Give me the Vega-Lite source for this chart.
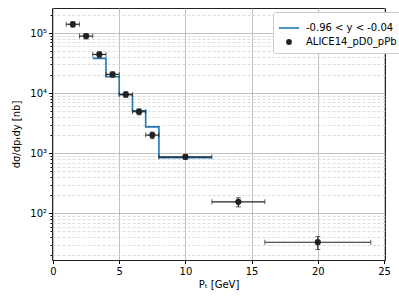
{
  "$schema": "https://vega.github.io/schema/vega-lite/v6.json",
  "width": 333,
  "height": 252,
  "autosize": {"type": "none"},
  "padding": {"left": 52, "top": 8, "right": 14, "bottom": 39},
  "background": "white",
  "config": {
    "font": "DejaVu Sans",
    "view": {"stroke": "#222", "strokeWidth": 1},
    "axis": {"labelFontSize": 10, "titleFontSize": 10, "labelColor": "#000", "titleColor": "#000", "tickColor": "#000", "domain": false, "titleFontWeight": "normal"},
    "legend": {"labelFontSize": 10, "labelColor": "#000"}
  },
  "datasets": {
    "model": [
      {"pt": 3, "y": 37900, "series": "-0.96 < y < -0.04"},
      {"pt": 4, "y": 18700, "series": "-0.96 < y < -0.04"},
      {"pt": 5, "y": 9400, "series": "-0.96 < y < -0.04"},
      {"pt": 6, "y": 5070, "series": "-0.96 < y < -0.04"},
      {"pt": 7, "y": 2740, "series": "-0.96 < y < -0.04"},
      {"pt": 8, "y": 845, "series": "-0.96 < y < -0.04"},
      {"pt": 12, "y": 845, "series": "-0.96 < y < -0.04"}
    ],
    "alice": [
      {"pt": 1.5, "xlo": 1, "xhi": 2, "y": 140000, "ylo": 126000, "yhi": 154000, "series": "ALICE14_pD0_pPb"},
      {"pt": 2.5, "xlo": 2, "xhi": 3, "y": 89000, "ylo": 80000, "yhi": 98000, "series": "ALICE14_pD0_pPb"},
      {"pt": 3.5, "xlo": 3, "xhi": 4, "y": 44000, "ylo": 39500, "yhi": 48500, "series": "ALICE14_pD0_pPb"},
      {"pt": 4.5, "xlo": 4, "xhi": 5, "y": 20500, "ylo": 18500, "yhi": 22500, "series": "ALICE14_pD0_pPb"},
      {"pt": 5.5, "xlo": 5, "xhi": 6, "y": 9500, "ylo": 8500, "yhi": 10500, "series": "ALICE14_pD0_pPb"},
      {"pt": 6.5, "xlo": 6, "xhi": 7, "y": 4900, "ylo": 4350, "yhi": 5450, "series": "ALICE14_pD0_pPb"},
      {"pt": 7.5, "xlo": 7, "xhi": 8, "y": 2000, "ylo": 1750, "yhi": 2250, "series": "ALICE14_pD0_pPb"},
      {"pt": 10, "xlo": 8, "xhi": 12, "y": 870, "ylo": 790, "yhi": 950, "series": "ALICE14_pD0_pPb"},
      {"pt": 14, "xlo": 12, "xhi": 16, "y": 155, "ylo": 128, "yhi": 182, "series": "ALICE14_pD0_pPb"},
      {"pt": 20, "xlo": 16, "xhi": 24, "y": 33, "ylo": 25, "yhi": 41, "series": "ALICE14_pD0_pPb"}
    ]
  },
  "layer": [
    {
      "data": {"name": "model"},
      "mark": {"type": "line", "interpolate": "step-after", "strokeWidth": 1.6},
      "encoding": {
        "x": {"field": "pt", "type": "quantitative", "title": "Pₜ [GeV]",
          "scale": {"domain": [-0.075, 25.075], "nice": false, "zero": false},
          "axis": {"values": [0, 5, 10, 15, 20, 25], "grid": true, "gridColor": "#b0b0b0", "gridWidth": 0.8, "tickSize": 3.5, "labelPadding": 3, "titlePadding": 3, "labelFlush": false}},
        "y": {"field": "y", "type": "quantitative", "title": "dσ/dpₜdy [nb]",
          "scale": {"type": "log", "domain": [16.7, 261000], "nice": false},
          "axis": {
            "values": [20, 30, 40, 50, 60, 70, 80, 90, 100, 200, 300, 400, 500, 600, 700, 800, 900, 1000, 2000, 3000, 4000, 5000, 6000, 7000, 8000, 9000, 10000, 20000, 30000, 40000, 50000, 60000, 70000, 80000, 90000, 100000, 200000],
            "labelExpr": "datum.value == 100 ? '10²' : datum.value == 1000 ? '10³' : datum.value == 10000 ? '10⁴' : datum.value == 100000 ? '10⁵' : ''",
            "titlePadding": 8,
            "grid": true,
            "gridColor": {"condition": {"test": "indexof([100,1000,10000,100000], datum.value) >= 0", "value": "#b0b0b0"}, "value": "#d3d3d3"},
            "gridDash": {"condition": {"test": "indexof([100,1000,10000,100000], datum.value) >= 0", "value": []}, "value": [3, 2]},
            "gridWidth": 0.8,
            "tickSize": {"condition": {"test": "indexof([100,1000,10000,100000], datum.value) >= 0", "value": 3.5}, "value": 2},
            "labelPadding": 2,
            "labelOverlap": false
          }},
        "stroke": {"field": "series", "type": "nominal",
          "scale": {"domain": ["-0.96 < y < -0.04", "ALICE14_pD0_pPb"], "range": ["#1f77b4", "#222222"]},
          "legend": {"title": null, "orient": "none", "legendX": 221, "legendY": 4, "fillColor": "white", "strokeColor": "#cccccc", "padding": 5, "cornerRadius": 2, "rowPadding": 3, "labelOffset": 6, "symbolStrokeWidth": 1.6}}
      }
    },
    {
      "data": {"name": "alice"},
      "mark": {"type": "errorbar", "ticks": {"size": 5}, "color": "#222222", "rule": {"strokeWidth": 1.2}},
      "encoding": {
        "x": {"field": "xlo", "type": "quantitative", "title": "Pₜ [GeV]"},
        "x2": {"field": "xhi"},
        "y": {"field": "y", "type": "quantitative", "title": "dσ/dpₜdy [nb]"}
      }
    },
    {
      "data": {"name": "alice"},
      "mark": {"type": "errorbar", "ticks": {"size": 5}, "color": "#222222", "rule": {"strokeWidth": 1.2}},
      "encoding": {
        "x": {"field": "pt", "type": "quantitative", "title": "Pₜ [GeV]"},
        "y": {"field": "ylo", "type": "quantitative", "title": "dσ/dpₜdy [nb]"},
        "y2": {"field": "yhi"}
      }
    },
    {
      "data": {"name": "alice"},
      "mark": {"type": "point", "filled": true, "opacity": 1},
      "encoding": {
        "x": {"field": "pt", "type": "quantitative", "title": "Pₜ [GeV]"},
        "y": {"field": "y", "type": "quantitative", "title": "dσ/dpₜdy [nb]"},
        "fill": {"field": "series", "type": "nominal",
          "scale": {"domain": ["-0.96 < y < -0.04", "ALICE14_pD0_pPb"], "range": ["#1f77b4", "#222222"]}},
        "stroke": {"field": "series", "type": "nominal"},
        "shape": {"field": "series", "type": "nominal",
          "scale": {"domain": ["-0.96 < y < -0.04", "ALICE14_pD0_pPb"], "range": ["stroke", "circle"]}},
        "size": {"field": "series", "type": "nominal",
          "scale": {"type": "ordinal", "domain": ["-0.96 < y < -0.04", "ALICE14_pD0_pPb"], "range": [400, 18]}}
      }
    }
  ]
}
